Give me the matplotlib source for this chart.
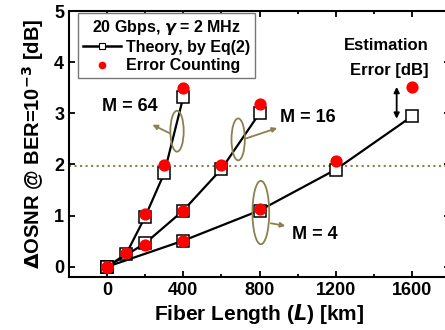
# Delta OSNR vs fiber length for M = 4, 16, 64

import numpy as np
import matplotlib
matplotlib.use('Agg')
import matplotlib.pyplot as plt
from matplotlib.patches import Ellipse

plt.rcParams['font.family'] = ['Liberation Sans', 'DejaVu Sans']
plt.rcParams['font.weight'] = 'bold'

# Data
L_64 = [0, 100, 200, 300, 400]
theory_64 = [0, 0.25, 0.98, 1.83, 3.32]
count_64 = [0, 0.26, 1.04, 1.99, 3.5]

L_16 = [0, 200, 400, 600, 800]
theory_16 = [0, 0.46, 1.10, 1.91, 3.0]
count_16 = [0, 0.42, 1.10, 1.98, 3.19]

L_4 = [0, 400, 800, 1200, 1600]
theory_4 = [0, 0.51, 1.10, 1.90, 2.94]
count_4 = [0, 0.51, 1.12, 2.07, 3.52]

threshold = 1.97

olive = '#8a8150'

fig = plt.figure(figsize=(4.45, 3.3), dpi=100)
ax = fig.add_axes([69 / 445, 53 / 330, 381 / 445, 266 / 330])

# theory curves (lines + open squares)
for L, th in [(L_64, theory_64), (L_16, theory_16), (L_4, theory_4)]:
    ax.plot(L, th, color='black', lw=1.6, marker='s', markersize=8.8,
            markerfacecolor='white', markeredgecolor='black', markeredgewidth=1.1, zorder=3)

# error counting (red dots)
for L, ec in [(L_64, count_64), (L_16, count_16), (L_4, count_4)]:
    ax.plot(L, ec, linestyle='none', marker='o', markersize=8.8,
            color='#ff0000', markeredgewidth=0, zorder=4)

ax.axhline(threshold, color=olive, ls=':', lw=1.5, zorder=1)

# ellipses, arrows and labels
for (cx, cy, w, h) in [(367, 2.65, 70, 0.8), (688, 2.49, 70, 0.82), (807, 1.06, 88, 1.24)]:
    ax.add_patch(Ellipse((cx, cy), w, h, fill=False, edgecolor=olive, lw=1.3, zorder=5))

arrow_kw = dict(arrowstyle='-|>', color=olive, lw=1.3, mutation_scale=7)
ax.annotate('', xy=(225, 2.8), xytext=(340, 2.59), arrowprops=arrow_kw)
ax.annotate('', xy=(907, 2.73), xytext=(714, 2.49), arrowprops=arrow_kw)
ax.annotate('', xy=(950, 0.79), xytext=(845, 0.86), arrowprops=arrow_kw)

ax.text(120, 3.14, 'M = 64', fontsize=13, fontweight='bold', ha='center', va='center')
ax.text(1055, 2.92, 'M = 16', fontsize=13, fontweight='bold', ha='center', va='center')
ax.text(1090, 0.63, 'M = 4', fontsize=13, fontweight='bold', ha='center', va='center')

ax.text(1467, 4.33, 'Estimation', fontsize=12, fontweight='bold', ha='center', va='center')
ax.text(1480, 3.84, 'Error [dB]', fontsize=12, fontweight='bold', ha='center', va='center')
ax.annotate('', xy=(1520, 2.84), xytext=(1520, 3.57),
            arrowprops=dict(arrowstyle='<|-|>', color='black', lw=1.3, mutation_scale=8))

ax.set_xlim(-200, 1800)
ax.set_ylim(-0.2, 5)
ax.set_xticks([0, 400, 800, 1200, 1600])
ax.set_xticks([200, 600, 1000, 1400], minor=True)
ax.set_yticks([0, 1, 2, 3, 4, 5])
ax.tick_params(which='both', direction='in', top=True, right=True, width=1.3)
ax.tick_params(which='major', length=4, labelsize=13)
ax.tick_params(which='minor', length=2.5)
for lbl in ax.get_xticklabels() + ax.get_yticklabels():
    lbl.set_fontweight('bold')
for sp in ax.spines.values():
    sp.set_linewidth(1.5)

ax.set_xlabel('Fiber Length ($\\mathbf{\\mathit{L}}$) [km]', fontsize=15, fontweight='bold', labelpad=2)
ax.set_ylabel('$\\mathbf{\\Delta}$OSNR @ BER=10$^{\\mathbf{-3}}$ [dB]', fontsize=14.5,
              fontweight='bold', labelpad=6)

# legend
h_th, = ax.plot([], [], color='black', lw=1.8, marker='s', markersize=4.5,
                markerfacecolor='white', markeredgecolor='black', markeredgewidth=0.8)
h_ec, = ax.plot([], [], linestyle='none', marker='o', markersize=4.5, color='#ff0000')
leg = ax.legend([h_th, h_ec], ['Theory, by Eq(2)', 'Error Counting'],
                title='20 Gbps, $\\gamma$ = 2 MHz', loc='upper left',
                bbox_to_anchor=(78 / 445, 1 - 13 / 330), bbox_transform=fig.transFigure,
                fancybox=False, edgecolor='#777777', framealpha=1,
                prop={'size': 11.5, 'weight': 'bold'},
                title_fontproperties={'size': 11.5, 'weight': 'bold'},
                handlelength=2.4, handletextpad=0.3, labelspacing=0.2, borderpad=0.3,
                borderaxespad=0)
leg.get_frame().set_linewidth(1.0)
leg._legend_box.align = 'center'

fig.savefig('out.png', dpi=100)
